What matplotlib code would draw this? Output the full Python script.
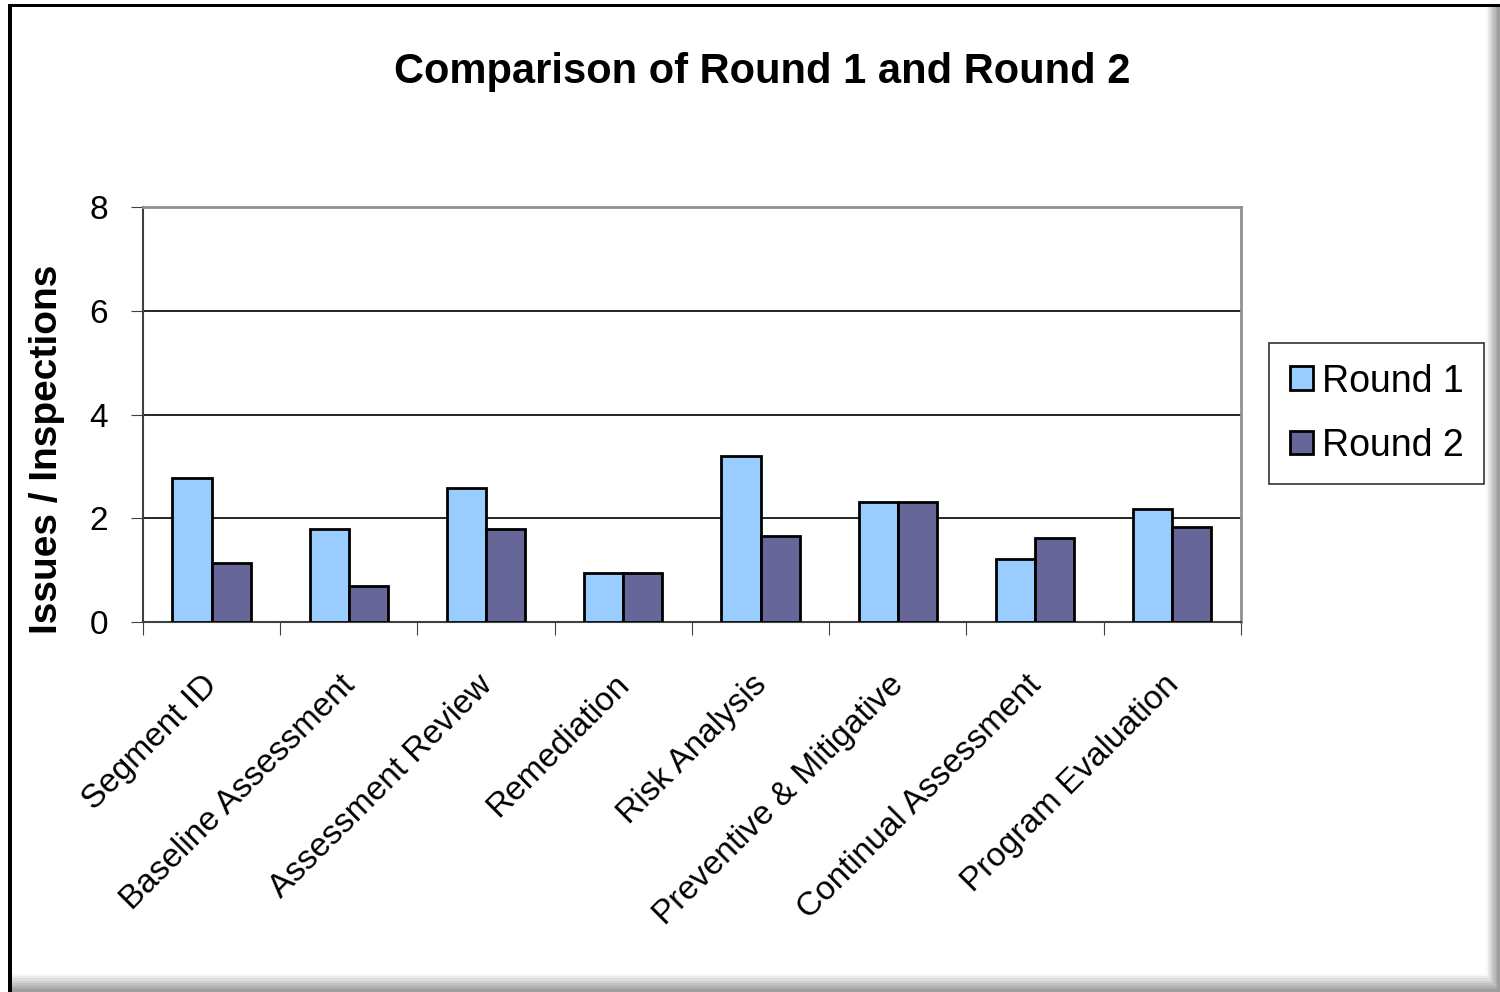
import matplotlib.pyplot as plt
import numpy as np
from matplotlib.patches import Rectangle

plt.rcParams['font.family'] = ['Liberation Sans', 'DejaVu Sans']

categories = ["Segment ID", "Baseline Assessment", "Assessment Review", "Remediation",
              "Risk Analysis", "Preventive & Mitigative", "Continual Assessment",
              "Program Evaluation"]
round1 = [2.77, 1.80, 2.58, 0.95, 3.20, 2.32, 1.21, 2.18]
round2 = [1.14, 0.70, 1.80, 0.95, 1.65, 2.32, 1.62, 1.83]

fig = plt.figure(figsize=(15, 9.92), dpi=100)

# frame: black top/left edges, soft grey shadow right/bottom
W, H = 1500.0, 992.0
for i, g in enumerate(np.linspace(0.97, 0.62, 8)):
    fig.patches.append(Rectangle(((1486 + i * 1.6) / W, 0), 1.6 / W + 0.01, 1 - 5 / H,
                                 transform=fig.transFigure, facecolor=str(g),
                                 edgecolor="none", zorder=-1))
    fig.patches.append(Rectangle((10 / W, 0), 1 - 10 / W, (18 - i * 2.2) / H,
                                 transform=fig.transFigure, facecolor=str(g),
                                 edgecolor="none", zorder=-1))
fig.patches.append(Rectangle((8 / W, 0), 4 / W, 1 - 4 / H, transform=fig.transFigure,
                             facecolor="black", edgecolor="none", zorder=0))
fig.patches.append(Rectangle((8 / W, 1 - 7 / H), 1, 3 / H, transform=fig.transFigure,
                             facecolor="black", edgecolor="none", zorder=0))

ax = fig.add_axes([0.0953, 0.373, 0.732, 0.4183])
x = np.arange(len(categories))
w = 0.285
ax.bar(x - w / 2, round1, w, color="#99CCFF", edgecolor="black", linewidth=2, label="Round 1", zorder=3)
ax.bar(x + w / 2, round2, w, color="#666699", edgecolor="black", linewidth=2, label="Round 2", zorder=3)

ax.set_xlim(-0.5, len(categories) - 0.5)
ax.set_ylim(0, 8)
ax.set_yticks([0, 2, 4, 6, 8])
ax.yaxis.grid(True, color="black", linewidth=1.2, zorder=0)
ax.set_xticks(np.arange(len(categories) + 1) - 0.5)
ax.set_xticklabels([])
# invisible minor ticks carry the rotated labels, nudged slightly left
ax.set_xticks(x - 0.07, minor=True)
ax.set_xticklabels(categories, minor=True, rotation=45, ha="right", va="top",
                   rotation_mode="anchor", fontsize=24)
ax.tick_params(axis="x", which="minor", length=0, pad=34)
ax.tick_params(axis="x", which="major", length=9, direction="out", color="#404040")
ax.tick_params(axis="y", labelsize=24, length=9, direction="out", color="#404040", pad=16)

for side in ["top", "right"]:
    ax.spines[side].set_color("#909090")
    ax.spines[side].set_linewidth(2)
ax.spines["left"].set_color("#404040")
ax.spines["bottom"].set_color("#404040")
ax.spines["left"].set_linewidth(1.5)
ax.spines["bottom"].set_linewidth(1.5)

ax.set_ylabel("Issues / Inspections", fontsize=28, fontweight="bold")
ax.yaxis.set_label_coords(-0.071, 0.417)
fig.text(0.508, 0.927, "Comparison of Round 1 and Round 2", ha="center", va="center",
         fontsize=30, fontweight="bold")

leg = ax.legend(loc="center left", bbox_to_anchor=(1.026, 0.502), fontsize=27, frameon=True,
                fancybox=False, edgecolor="black", handlelength=0.6, handleheight=0.6,
                handletextpad=0.25, labelspacing=0.75, borderpad=0.55, borderaxespad=0)
leg.get_frame().set_linewidth(1.2)

fig.savefig("out.png", dpi=100)
